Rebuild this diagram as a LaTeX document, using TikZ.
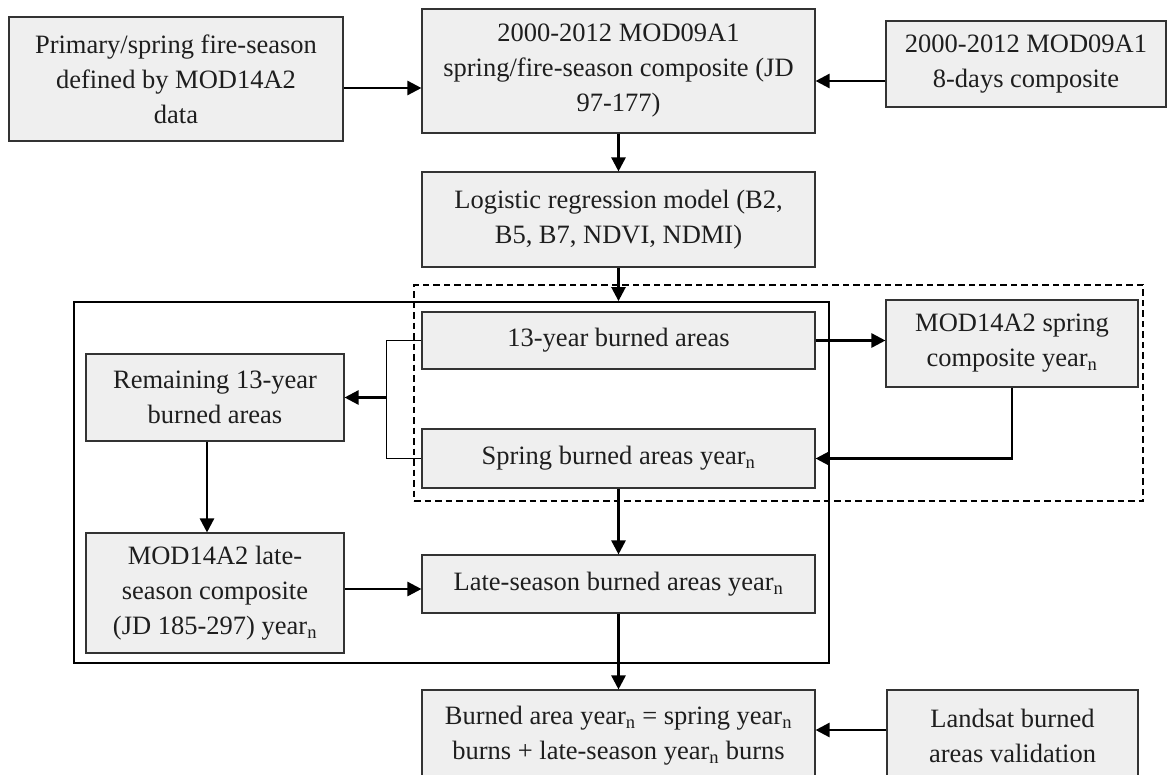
\documentclass[tikz,border=0pt]{standalone}
\usepackage{fontspec}
\setmainfont{Liberation Serif}
\usetikzlibrary{arrows.meta,calc}
\definecolor{boxfill}{HTML}{EFEFEF}
\definecolor{boxline}{HTML}{333333}
\definecolor{txt}{HTML}{1E1E1E}
\begin{document}
\begin{tikzpicture}[x=1pt,y=-1pt,
  box/.style={draw=boxline, line width=1.1pt, fill=boxfill, align=center, inner sep=0pt,
    text=txt, font=\fontsize{26.5pt}{35pt}\selectfont},
  arr/.style={line width=2.5pt, -{Triangle[length=14pt,width=14pt]}},
  thinline/.style={line width=1.3pt},
  frame/.style={draw, line width=1.8pt, inner sep=0pt},
  dframe/.style={draw, line width=1.6pt, dash pattern=on 6.5pt off 4pt, inner sep=0pt}]
\useasboundingbox (0,0) rectangle (1169,774);
\clip (0,0) rectangle (1169,774);

% grouping frames
\node[frame, minimum width=755pt, minimum height=361pt] (outer) at (451.5,482.5) {};
\node[dframe, minimum width=729pt, minimum height=216pt] (dashbox) at (778.5,393) {};

% boxes
\node[box, minimum width=334pt, minimum height=124pt] (A) at (176,79)
  {Primary/spring fire-season\\defined by MOD14A2\\data};
\node[box, minimum width=393pt, minimum height=124pt] (B) at (618.5,71)
  {2000-2012 MOD09A1\\spring/fire-season composite (JD\\97-177)};
\node[box, minimum width=280pt, minimum height=86pt] (C) at (1026,64)
  {2000-2012 MOD09A1\\8-days composite};
\node[box, minimum width=393pt, minimum height=95pt] (D) at (618.5,219.5)
  {Logistic regression model (B2,\\B5, B7, NDVI, NDMI)};
\node[box, minimum width=393pt, minimum height=57pt] (E) at (618.5,340.5)
  {13-year burned areas};
\node[box, minimum width=393pt, minimum height=59pt] (F) at (618.5,458.5)
  {Spring burned areas year\textsubscript{n}};
\node[box, minimum width=252pt, minimum height=87pt] (G) at (1012,343.5)
  {MOD14A2 spring\\composite year\textsubscript{n}};
\node[box, minimum width=258pt, minimum height=87pt] (H) at (215,397.5)
  {Remaining 13-year\\burned areas};
\node[box, minimum width=258pt, minimum height=120pt] (I) at (215,593)
  {MOD14A2 late-\\season composite\\(JD 185-297) year\textsubscript{n}};
\node[box, minimum width=393pt, minimum height=58pt] (J) at (618.5,584)
  {Late-season burned areas year\textsubscript{n}};
\node[box, minimum width=393pt, minimum height=92pt] (K) at (618.5,736)
  {Burned area year\textsubscript{n} = spring year\textsubscript{n}\\burns + late-season year\textsubscript{n} burns};
\node[box, minimum width=251pt, minimum height=92pt] (L) at (1012.5,736)
  {Landsat burned\\areas validation};

% connectors
\coordinate (a1) at ([yshift=-9pt]A.east);
\draw[arr] (a1) -- (a1 -| B.west);
\coordinate (c1) at ([yshift=-17pt]C.west);
\draw[arr] (c1) -- (c1 -| B.east);
\draw[arr] (B.south) -- (D.north);
\draw[arr] (D.south) -- (D.south |- outer.north);
\draw[arr] (E.east) -- (E.east -| G.west);
\draw[arr] (G.south) |- (F.east);
\coordinate (bt) at ([xshift=-35pt]E.west);
\coordinate (bb) at ([xshift=-35pt]F.west);
\draw[thinline] (E.west) -- (bt) -- (bb) -- (F.west);
\draw[arr] (H.east -| bt) -- (H.east);
\coordinate (h1) at ([xshift=-8pt]H.south);
\draw[arr] (h1) -- (h1 |- I.north);
\coordinate (i1) at ([yshift=4pt]I.east);
\draw[arr] (i1) -- (i1 -| J.west);
\draw[arr] (F.south) -- (J.north);
\draw[arr] (J.south) -- (K.north);
\coordinate (l1) at ([yshift=6pt]L.west);
\draw[arr] (l1) -- (l1 -| K.east);
\end{tikzpicture}
\end{document}
